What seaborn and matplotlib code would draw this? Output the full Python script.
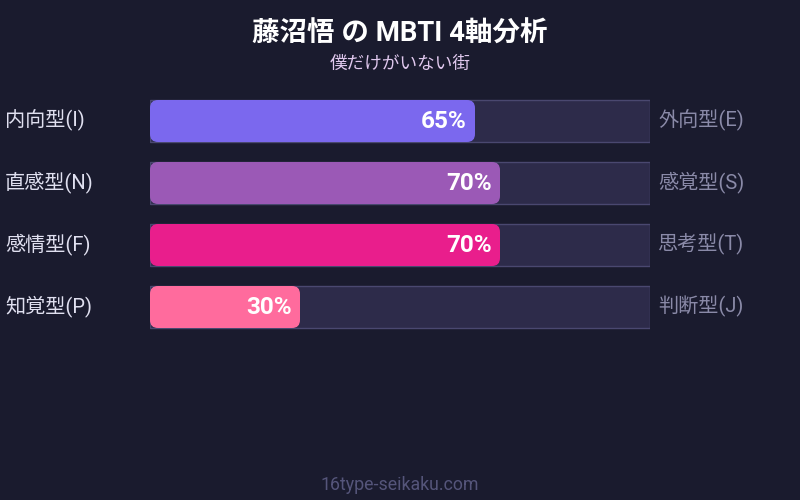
import matplotlib
matplotlib.use("Agg")
import matplotlib.pyplot as plt
import seaborn as sns
import pandas as pd
from matplotlib.patches import FancyBboxPatch

# データ
left_labels = ['内向型(I)', '直感型(N)', '感情型(F)', '知覚型(P)']
right_labels = ['外向型(E)', '感覚型(S)', '思考型(T)', '判断型(J)']
scores = [65, 70, 70, 30]
bar_colors = ['#7b68ee', '#9b59b6', '#e91e8c', '#ff6b9d']

title = '藤沼悟 の MBTI 4軸分析'
subtitle = '僕だけがいない街'
footer = '16type-seikaku.com'

bg = '#1a1b2e'
track_color = '#2d2b4a'
track_edge = '#4a4870'

sns.set_theme(style='white')
plt.rcParams['font.family'] = ['Roboto', 'Noto Sans CJK JP', 'DejaVu Sans']

df = pd.DataFrame({'axis': left_labels, 'score': scores, 'full': [100] * len(scores)})

fig = plt.figure(figsize=(8, 5), dpi=100, facecolor=bg)
# 棒の領域: x 150-650px, y 90-338px
ax = fig.add_axes([150 / 800, 1 - 338 / 500, 500 / 800, 248 / 500])
ax.set_facecolor(bg)

bw = 42 / 62
sns.barplot(data=df, x='full', y='axis', color=track_color, width=bw, ax=ax,
            edgecolor=track_edge, linewidth=1, saturation=1)
n_track = len(ax.patches)
sns.barplot(data=df, x='score', y='axis', hue='axis', palette=bar_colors,
            width=bw, ax=ax, legend=False, saturation=1, linewidth=0)

# 塗りの棒を角丸に置き換える
fills = ax.patches[n_track:]
for p in list(fills):
    x0, y0 = p.get_x(), p.get_y()
    w, h = p.get_width(), p.get_height()
    rb = FancyBboxPatch((x0, y0), w, h,
                        boxstyle='round,pad=0,rounding_size=1.6',
                        mutation_aspect=(8 / 62) / 1.6,
                        facecolor=p.get_facecolor(), edgecolor='none', zorder=3)
    p.remove()
    ax.add_patch(rb)

ax.set_xlim(0, 100)
ax.set_ylim(3.5, -0.5)
ax.set_xlabel('')
ax.set_ylabel('')
ax.set_xticks([])
ax.set_yticks([])
for s in ax.spines.values():
    s.set_visible(False)

for i, (l, r, v) in enumerate(zip(left_labels, right_labels, scores)):
    ax.text(v - 1.6, i, f'{v}%', ha='right', va='center', color='white',
            fontsize=17.5, fontweight='bold', zorder=4)
    fig.text(5 / 800, 1 - (120 + 62 * i) / 500, l, ha='left', va='center',
             color='#e0e0f0', fontsize=14.5)
    fig.text(658 / 800, 1 - (120 + 62 * i) / 500, r, ha='left', va='center',
             color='#8a8aa8', fontsize=14.5)

fig.text(0.5, 1 - 34 / 500, title, ha='center', va='center', color='white',
         fontsize=19.8, fontweight='bold')
fig.text(0.5, 1 - 64 / 500, subtitle, ha='center', va='center', color='#e0c8ee',
         fontsize=12.7)
fig.text(0.5, 1 - 485 / 500, footer, ha='center', va='center', color='#55557a',
         fontsize=12.8)

fig.savefig('out.png', dpi=100, facecolor=bg)
